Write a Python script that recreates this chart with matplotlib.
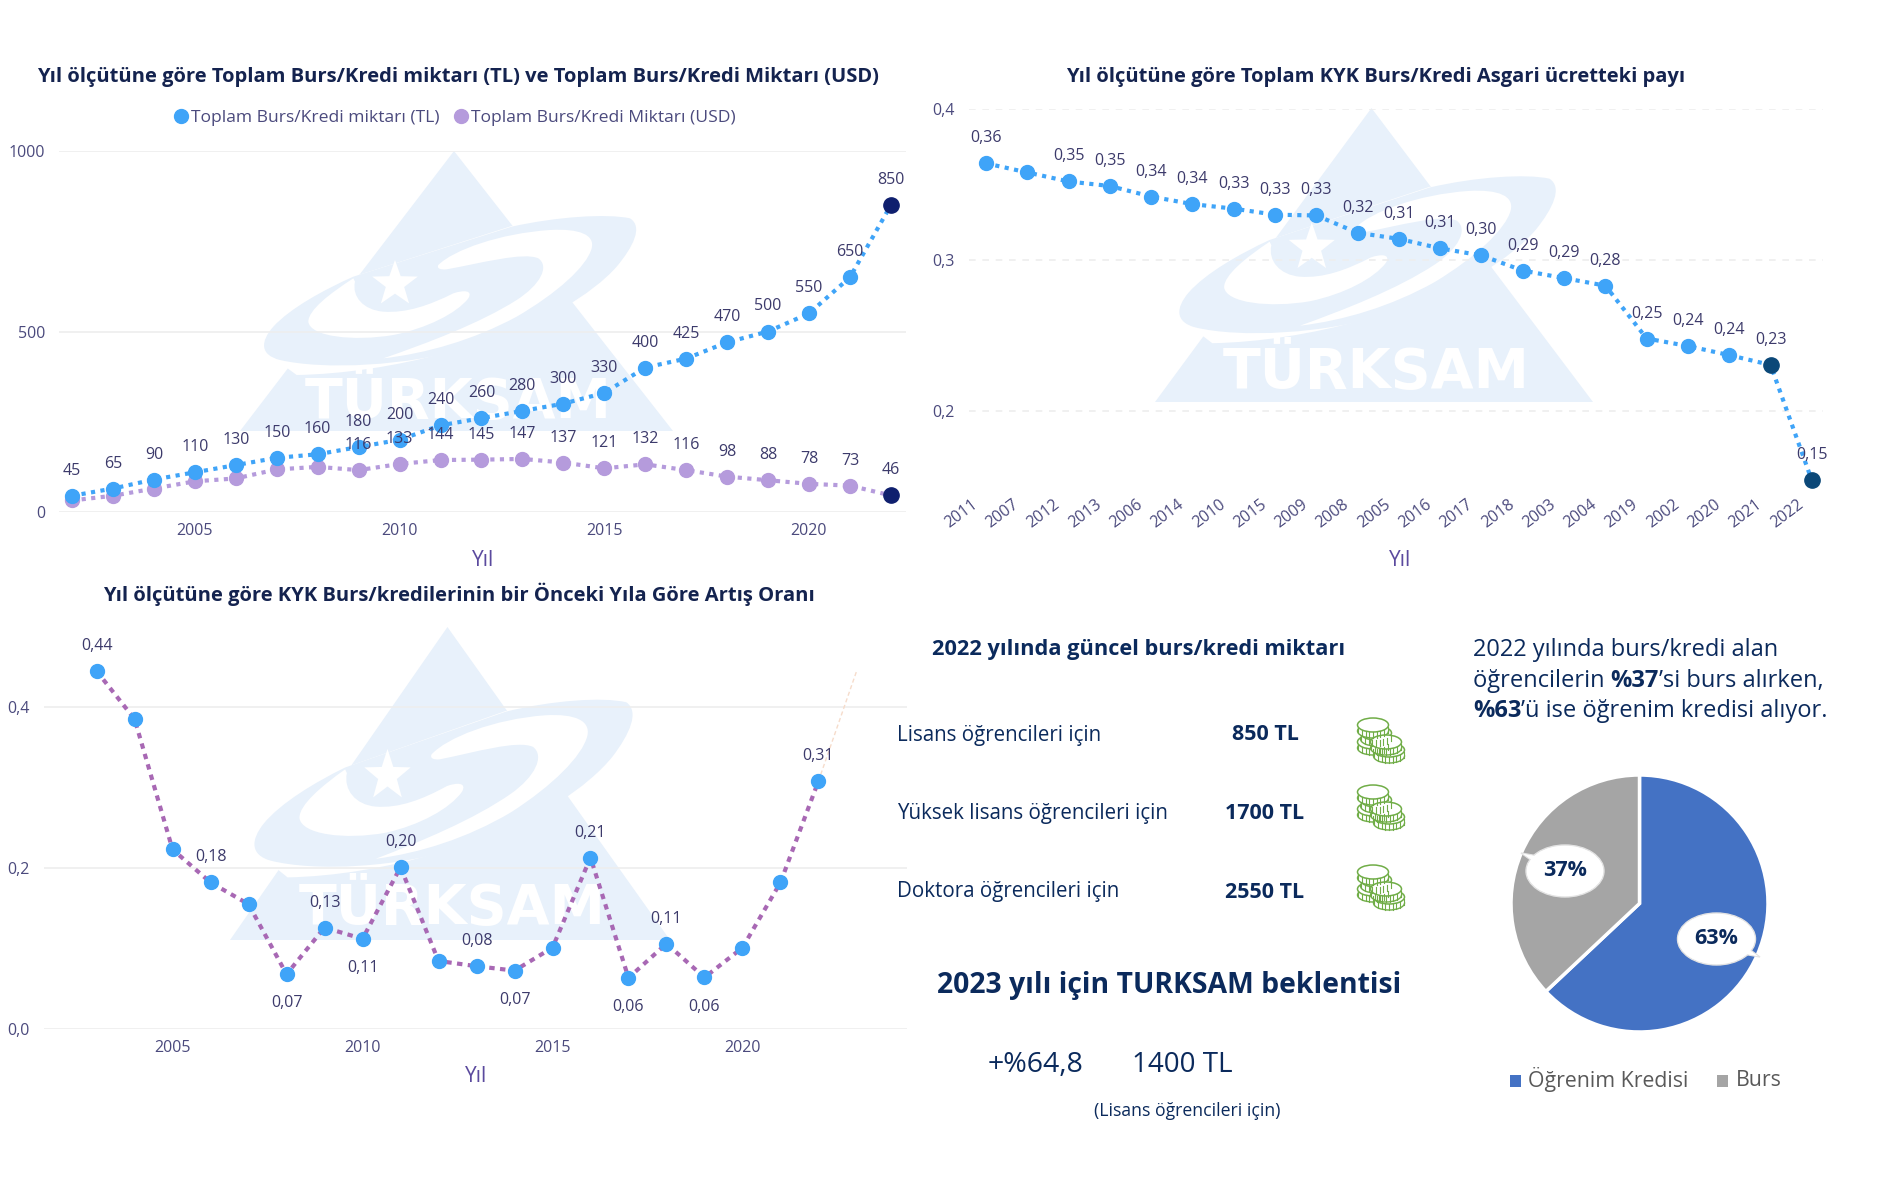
import matplotlib
matplotlib.use("Agg")
import matplotlib.pyplot as plt
from matplotlib.lines import Line2D
from matplotlib.patches import Ellipse, PathPatch, Polygon, Rectangle
from matplotlib.path import Path
from matplotlib.transforms import ScaledTranslation
import numpy as np

plt.rcParams['font.family'] = ['Open Sans', 'DejaVu Sans']

W, H = 1890, 1181

# chart 1
years1 = list(range(2002, 2023))
tl = [45, 65, 90, 110, 130, 150, 160, 180, 200, 240, 260, 280, 300, 330, 400, 425, 470, 500, 550, 650, 850]
usd = [32, 45, 65, 85, 93, 118, 125, 116, 133, 144, 145, 147, 137, 121, 132, 116, 98, 88, 78, 73, 46]
usd_labelled = list(range(2009, 2023))

# chart 2
years2 = ['2011', '2007', '2012', '2013', '2006', '2014', '2010', '2015', '2009', '2008', '2005',
          '2016', '2017', '2018', '2003', '2004', '2019', '2002', '2020', '2021', '2022']
share = [0.364, 0.358, 0.352, 0.349, 0.342, 0.337, 0.334, 0.330, 0.3295, 0.318, 0.314,
         0.3077, 0.303, 0.293, 0.288, 0.283, 0.248, 0.243, 0.237, 0.2305, 0.154]
share_unlabelled = ['2007']

# chart 3
years3 = list(range(2003, 2023))
growth = [0.4446, 0.385, 0.223, 0.182, 0.155, 0.068, 0.126, 0.112, 0.201, 0.0845,
          0.078, 0.0725, 0.101, 0.213, 0.0635, 0.106, 0.064, 0.101, 0.182, 0.308]
growth_above = [2003, 2006, 2009, 2011, 2013, 2016, 2018, 2022]
growth_below = [2008, 2010, 2014, 2017, 2019]
forecast_years = [2022, 2023]
forecast = [0.308, 0.444]

# pie and side table
pie_labels = ['Öğrenim Kredisi', 'Burs']
pie_values = [63, 37]
levels = ['Lisans öğrencileri için', 'Yüksek lisans öğrencileri için', 'Doktora öğrencileri için']
amounts = ['850 TL', '1700 TL', '2550 TL']

NAVY = '#0b2a5c'
TICK = '#4b4a7d'
AXT = '#5b4a9e'
BLUE = '#3fa4f8'
PURPLE = '#b59bdc'
LOGO = '#e8f1fb'
GREEN = '#70ad47'


def comma(v):
    return f'{v:.2f}'.replace('.', ',')


def make_axes(fig, left, top, right, bottom):
    ax = fig.add_axes([left / W, 1 - bottom / H, (right - left) / W, (bottom - top) / H], zorder=2)
    ax.patch.set_alpha(0)
    for s in ax.spines.values():
        s.set_visible(False)
    return ax


def bez(start, *segs):
    # closed path out of cubic segments, a segment of one point is a straight line
    verts, codes = [start], [Path.MOVETO]
    for seg in segs:
        verts.extend(seg)
        codes.extend([Path.LINETO] if len(seg) == 1 else [Path.CURVE4] * 3)
    verts.append(start)
    codes.append(Path.CLOSEPOLY)
    return np.array(verts, dtype=float), codes


def draw_logo(ax, left, top, w, h):
    # watermark, drawn on a 1299x840 grid with the apex at (642, -177)
    def add(shape, color):
        v, c = shape
        v = v.copy()
        v[:, 0] = left + v[:, 0] / 1299 * w
        v[:, 1] = top + (v[:, 1] + 177) / 840 * h
        ax.add_patch(PathPatch(Path(v, c), fc=color, ec='none'))

    add(bez((642, -177), [(1299, 663)], [(0, 663)]), LOGO)
    add(bez((170, 495), [(450, 490), (800, 400), (1000, 265)], [(1300, 100)], [(815, 48)], [(340, 200)], [(40, 400)]), 'white')
    add(bez((815, 50), [(950, 20), (1100, 10), (1170, 25)], [(1210, 50), (1180, 110), (1130, 170)],
            [(1060, 250), (900, 350), (700, 410)], [(500, 470), (250, 480), (120, 450)],
            [(60, 435), (60, 395), (100, 350)], [(150, 295), (250, 240), (340, 200)]), LOGO)
    add(bez((340, 205), [(270, 250), (205, 300), (205, 335)], [(210, 380), (340, 395), (460, 375)],
            [(560, 355), (650, 310), (685, 265)], [(700, 240), (670, 240), (640, 250)],
            [(570, 285), (500, 310), (430, 305)], [(370, 300), (335, 260), (345, 215)]), 'white')
    add(bez((595, 165), [(640, 120), (780, 70), (930, 60)], [(1020, 55), (1065, 75), (1055, 115)],
            [(1040, 170), (950, 250), (830, 320)], [(700, 390), (560, 430), (430, 445)],
            [(560, 400), (720, 340), (830, 270)], [(900, 225), (930, 170), (895, 145)],
            [(850, 125), (720, 160), (620, 178)], [(600, 180), (590, 175), (595, 165)]), 'white')
    ang = np.pi / 2 + np.arange(10) * np.pi / 5
    rad = np.where(np.arange(10) % 2 == 0, 72, 29)
    add(bez(*[(465 + r * np.cos(a), 222 - r * np.sin(a)) for a, r in zip(ang[:1], rad[:1])],
            *[[(465 + r * np.cos(a), 222 - r * np.sin(a))] for a, r in zip(ang[1:], rad[1:])]), 'white')
    ax.text(left + 0.505 * w, top + 757 / 840 * h, 'TÜRKSAM', color='white', family='DejaVu Sans',
            fontweight='bold', fontsize=40, ha='center', va='center', zorder=3)


def draw_coin_stack(ax, x0, y0):
    # back stack first, offsets in pixels from the top coin of the back stack
    for dx, dy in [(0, 17), (3, 8), (0, 0), (16, 25), (13, 17)]:
        x, y = x0 + dx, y0 + dy
        ax.add_patch(Ellipse((x, y + 6), 31, 14, fc='white', ec=GREEN, lw=1))
        ax.add_patch(Rectangle((x - 15.5, y), 31, 6, fc='white', ec='none'))
        for t in np.linspace(-0.95, 0.95, 9):
            bx = x + 15.5 * t
            by = y + 7 * np.sqrt(1 - t * t)
            ax.plot([bx, bx], [by, by + 6], color=GREEN, lw=0.8)
        ax.add_patch(Ellipse((x, y), 31, 14, fc='white', ec=GREEN, lw=1.1))


def draw_runs(ax, x, y, runs, size):
    # text with bold words inside a line, each run starts where the last one ended
    r = ax.figure.canvas.get_renderer()
    for s, weight in runs:
        t = ax.text(x, y, s, fontsize=size, fontweight=weight, color=NAVY, ha='left', va='center')
        x += t.get_window_extent(r).width


def style_common(ax, grid_ls):
    ax.grid(axis='y', color='#eeeeee', lw=1.2, ls=grid_ls)
    ax.set_axisbelow(True)
    ax.tick_params(length=0, labelcolor=TICK, labelsize=11.5)


def point_labels(ax, xs, ys, texts, dy):
    for x, y, s in zip(xs, ys, texts):
        ax.annotate(s, (x, y), xytext=(0, dy), textcoords='offset points', ha='center', va='center',
                    fontsize=11.5, color='#3c3a6b', zorder=6)


fig = plt.figure(figsize=(W / 100, H / 100), dpi=100, facecolor='white')

bg = fig.add_axes([0, 0, 1, 1], zorder=0)
bg.set_xlim(0, W)
bg.set_ylim(H, 0)
bg.axis('off')
top = fig.add_axes([0, 0, 1, 1], zorder=5)
top.set_xlim(0, W)
top.set_ylim(H, 0)
top.axis('off')

draw_logo(bg, 240, 151, 433, 280)
draw_logo(bg, 1155, 108, 438, 294)
draw_logo(bg, 230, 627, 440, 313)

title_kw = dict(fontsize=14.5, fontweight='bold', color='#14234f', ha='center', va='center')

# chart 1, amounts by year
ax1 = make_axes(fig, 59, 151, 906, 512)
ax1.set_xlim(2001.68, 2022.37)
ax1.set_ylim(0, 1000)
ax1.set_yticks([0, 500, 1000])
ax1.set_xticks([2005, 2010, 2015, 2020])
style_common(ax1, '-')
ax1.tick_params(axis='y', pad=10)
ax1.tick_params(axis='x', pad=8)
ax1.plot(years1, tl, ls=(0, (1, 1.3)), lw=3, color=BLUE, zorder=3)
ax1.plot(years1, usd, ls=(0, (1, 1.3)), lw=3, color=PURPLE, zorder=3)
ax1.plot(years1[:-1], usd[:-1], 'o', ms=10, color=PURPLE, zorder=4)
ax1.plot(years1[:-1], tl[:-1], 'o', ms=10, color=BLUE, zorder=4)
ax1.plot(years1[-1:], tl[-1:], 'o', ms=11, color='#0f1f6e', zorder=5)
ax1.plot(years1[-1:], usd[-1:], 'o', ms=11, color='#0f1f6e', zorder=5)
point_labels(ax1, years1, tl, tl, 18)
usd_shown = [(y, v) for y, v in zip(years1, usd) if y in usd_labelled]
point_labels(ax1, [p[0] for p in usd_shown], [p[1] for p in usd_shown], [p[1] for p in usd_shown], 18)
ax1.legend(handles=[Line2D([], [], ls='none', marker='o', ms=10, color=BLUE, label='Toplam Burs/Kredi miktarı (TL)'),
                    Line2D([], [], ls='none', marker='o', ms=10, color=PURPLE, label='Toplam Burs/Kredi Miktarı (USD)')],
           ncol=2, frameon=False, loc='center', bbox_to_anchor=(453 / W, 1 - 118 / H), bbox_transform=fig.transFigure,
           labelcolor=TICK, fontsize=12.6, handletextpad=0, columnspacing=0.6, handlelength=1.2)
top.text(458, 77, 'Yıl ölçütüne göre Toplam Burs/Kredi miktarı (TL) ve Toplam Burs/Kredi Miktarı (USD)', **title_kw)
top.text(483, 560, 'Yıl', fontsize=15, color=AXT, ha='center', va='center')

# chart 2, share of the minimum wage, years sorted by share
ax2 = make_axes(fig, 969, 109, 1823, 488)
ax2.set_xlim(-0.41, 20.27)
ax2.set_ylim(0.149, 0.4)
ax2.set_yticks([0.2, 0.3, 0.4], ['0,2', '0,3', '0,4'])
ax2.set_xticks(range(len(years2)))
ax2.set_xticklabels(years2, rotation=37, ha='right', rotation_mode='anchor', color='#6f6a9c')
style_common(ax2, (0, (4, 4)))
ax2.tick_params(axis='y', pad=10)
ax2.tick_params(axis='x', pad=6)
for lab in ax2.get_xticklabels():
    lab.set_transform(lab.get_transform() + ScaledTranslation(-0.15, 0, fig.dpi_scale_trans))
xs2 = np.arange(len(years2))
ax2.plot(xs2, share, ls=(0, (1, 1.3)), lw=3, color=BLUE, zorder=3, clip_on=False)
ax2.plot(xs2[:-2], share[:-2], 'o', ms=10, color=BLUE, zorder=4)
ax2.plot(xs2[-2:], share[-2:], 'o', ms=11, color='#0b4878', zorder=5, clip_on=False)
shown2 = [i for i, y in enumerate(years2) if y not in share_unlabelled]
point_labels(ax2, shown2, [share[i] for i in shown2], [comma(share[i]) for i in shown2], 18)
top.text(1376, 77, 'Yıl ölçütüne göre Toplam KYK Burs/Kredi Asgari ücretteki payı', **title_kw)
top.text(1400, 560, 'Yıl', fontsize=15, color=AXT, ha='center', va='center')

# chart 3, yearly increase
ax3 = make_axes(fig, 44.5, 620, 907, 1029)
ax3.set_xlim(2001.63, 2024.33)
ax3.set_ylim(0, 0.508)
ax3.set_yticks([0, 0.2, 0.4], ['0,0', '0,2', '0,4'])
ax3.set_xticks([2005, 2010, 2015, 2020])
style_common(ax3, '-')
ax3.tick_params(axis='y', pad=11)
ax3.tick_params(axis='x', pad=8)
ax3.plot(forecast_years, forecast, ls=(0, (3, 2)), lw=1, color='#f6dccb', zorder=2)
ax3.plot(years3, growth, ls=(0, (1.3, 1.3)), lw=3, color='#a868b4', zorder=3)
ax3.plot(years3, growth, 'o', ms=10, color=BLUE, zorder=4)
for yrs, dy in [(growth_above, 18), (growth_below, -21)]:
    vals = [growth[years3.index(y)] for y in yrs]
    point_labels(ax3, yrs, vals, [comma(v) for v in vals], dy)
top.text(459, 594, 'Yıl ölçütüne göre KYK Burs/kredilerinin bir Önceki Yıla Göre Artış Oranı', **title_kw)
top.text(476, 1077, 'Yıl', fontsize=15, color=AXT, ha='center', va='center')

# table in the middle
top.text(1139, 650, '2022 yılında güncel burs/kredi miktarı', fontsize=15.7, fontweight='bold', color=NAVY, ha='center', va='center')
row_y = [735, 813.5, 892]
for lvl, amt, y in zip(levels, amounts, row_y):
    top.text(897, y, lvl, fontsize=14.8, color=NAVY, ha='left', va='center')
    top.text(1265, y, amt, fontsize=15.5, fontweight='bold', color=NAVY, ha='center', va='center')
for y in [725, 792, 872]:
    draw_coin_stack(top, 1373, y)
top.text(1169, 985, '2023 yılı için TURKSAM beklentisi', fontsize=20.4, fontweight='bold', color=NAVY, ha='center', va='center')
top.text(988, 1065, '+%64,8', fontsize=20.5, color=NAVY, ha='left', va='center')
top.text(1132, 1065, '1400 TL', fontsize=20, color=NAVY, ha='left', va='center')
top.text(1187, 1111, '(Lisans öğrencileri için)', fontsize=12.7, color=NAVY, ha='center', va='center')

# text above the pie
draw_runs(top, 1473, 650, [('2022 yılında burs/kredi alan', 'normal')], 17)
draw_runs(top, 1473, 681, [('öğrencilerin ', 'normal'), ('%37', 'bold'), ('’si burs alırken,', 'normal')], 17)
draw_runs(top, 1473, 711, [('%63', 'bold'), ('’ü ise öğrenim kredisi alıyor.', 'normal')], 17)

# pie
axp = make_axes(fig, 1511, 775, 1768, 1032)
axp.pie(pie_values, colors=['#4472c4', '#a5a5a5'], startangle=90, counterclock=False, radius=1,
        wedgeprops=dict(edgecolor='white', linewidth=2.5))
axp.set_xlim(-1, 1)
axp.set_ylim(-1, 1)
axp.set_zorder(2)

for (cx, cy), (tx, ty), val in [((1565, 871), (1521, 853), pie_values[1]), ((1716.5, 939), (1760, 957), pie_values[0])]:
    ang = np.arctan2(ty - cy, tx - cx)
    nx, ny = -np.sin(ang) * 16, np.cos(ang) * 10
    top.add_patch(Polygon([(cx + nx, cy + ny), (cx - nx, cy - ny), (tx, ty)], fc='white', ec='#e3e3e3', lw=1))
    top.add_patch(Ellipse((cx, cy), 78, 52, fc='white', ec='#e3e3e3', lw=1))
    top.add_patch(Ellipse((cx, cy), 76, 50, fc='white', ec='none'))
    top.add_patch(Polygon([(cx + nx * 0.9, cy + ny * 0.9), (cx - nx * 0.9, cy - ny * 0.9), (tx - np.cos(ang) * 2, ty - np.sin(ang) * 2)], fc='white', ec='none'))
    top.text(cx, cy, f'{val}%', fontsize=15.5, fontweight='bold', color=NAVY, ha='center', va='center')

for x, tx, name, color in [(1510, 1528, pie_labels[0], '#4472c4'), (1717, 1736, pie_labels[1], '#a5a5a5')]:
    top.add_patch(Rectangle((x, 1075), 11, 12, fc=color, ec='none'))
    top.text(tx, 1080, name, fontsize=15.3, color='#595959', ha='left', va='center')

fig.savefig('out.png', dpi=100)
